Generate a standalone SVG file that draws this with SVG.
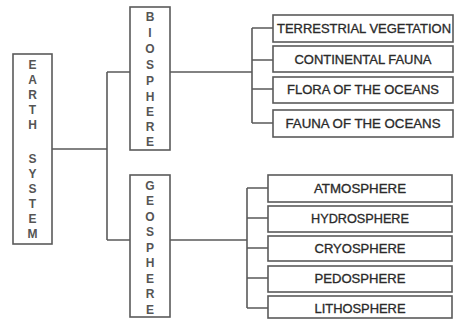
<svg xmlns="http://www.w3.org/2000/svg" width="454" height="320" viewBox="0 0 454 320">
<style>
.box{fill:#fff;stroke:#5a5a5a;stroke-width:1.6}
.ln{fill:none;stroke:#5a5a5a;stroke-width:1.6}
.v{font-family:"Liberation Sans",Arial,sans-serif;font-size:12px;font-weight:bold;fill:#555;text-anchor:middle}
.t{font-family:"Liberation Sans",Arial,sans-serif;font-size:12px;fill:#2a2a2a;text-anchor:middle;stroke:#2a2a2a;stroke-width:0.3}
</style>
<rect width="454" height="320" fill="#fff"/>
<g id="connectors">
<path class="ln" d="M52,149 H107 M107,72 V240 M107,72 H130 M107,240 H130"/>
<path class="ln" d="M170,72 H252 M252,28 V123 M252,28 H273 M252,60 H273 M252,89 H273 M252,123 H273"/>
<path class="ln" d="M170,240 H247 M247,188 V308 M247,188 H268 M247,218 H268 M247,248 H268 M247,278 H268 M247,308 H268"/>
</g>
<g id="earth-system">
<rect class="box" x="13" y="54" width="39" height="190"/>
<text class="v" x="32.5" y="68.5">E</text>
<text class="v" x="32.5" y="83.5">A</text>
<text class="v" x="32.5" y="98.5">R</text>
<text class="v" x="32.5" y="113.5">T</text>
<text class="v" x="32.5" y="128.5">H</text>
<text class="v" x="32.5" y="162.5">S</text>
<text class="v" x="32.5" y="177.5">Y</text>
<text class="v" x="32.5" y="192.5">S</text>
<text class="v" x="32.5" y="207.5">T</text>
<text class="v" x="32.5" y="222.5">E</text>
<text class="v" x="32.5" y="237.5">M</text>
</g>
<g id="biosphere">
<rect class="box" x="130" y="7" width="40" height="143"/>
<text class="v" x="150" y="20.5">B</text>
<text class="v" x="150" y="36.5">I</text>
<text class="v" x="150" y="52.5">O</text>
<text class="v" x="150" y="68.5">S</text>
<text class="v" x="150" y="84.5">P</text>
<text class="v" x="150" y="100.5">H</text>
<text class="v" x="150" y="115.5">E</text>
<text class="v" x="150" y="130.5">R</text>
<text class="v" x="150" y="145.5">E</text>
</g>
<g id="geosphere">
<rect class="box" x="130" y="175" width="40" height="142"/>
<text class="v" x="150" y="189.5">G</text>
<text class="v" x="150" y="205">E</text>
<text class="v" x="150" y="220.5">O</text>
<text class="v" x="150" y="236">S</text>
<text class="v" x="150" y="251.5">P</text>
<text class="v" x="150" y="267">H</text>
<text class="v" x="150" y="282.5">E</text>
<text class="v" x="150" y="298">R</text>
<text class="v" x="150" y="313.5">E</text>
</g>
<g id="terrestrial-vegetation">
<rect class="box" x="273" y="15" width="180" height="27"/>
<text class="t" x="364" y="33" textLength="174" lengthAdjust="spacingAndGlyphs">TERRESTRIAL VEGETATION</text>
</g>
<g id="continental-fauna">
<rect class="box" x="273" y="46" width="180" height="26"/>
<text class="t" x="363" y="64" textLength="137" lengthAdjust="spacingAndGlyphs">CONTINENTAL FAUNA</text>
</g>
<g id="flora-oceans">
<rect class="box" x="273" y="77" width="180" height="26"/>
<text class="t" x="363" y="94" textLength="152" lengthAdjust="spacingAndGlyphs">FLORA OF THE OCEANS</text>
</g>
<g id="fauna-oceans">
<rect class="box" x="273" y="110" width="180" height="27"/>
<text class="t" x="363" y="128" textLength="155" lengthAdjust="spacingAndGlyphs">FAUNA OF THE OCEANS</text>
</g>
<g id="atmosphere">
<rect class="box" x="268" y="175" width="184" height="27"/>
<text class="t" x="360" y="193" textLength="92" lengthAdjust="spacingAndGlyphs">ATMOSPHERE</text>
</g>
<g id="hydrosphere">
<rect class="box" x="268" y="206" width="184" height="26"/>
<text class="t" x="360" y="223" textLength="98" lengthAdjust="spacingAndGlyphs">HYDROSPHERE</text>
</g>
<g id="cryosphere">
<rect class="box" x="268" y="236" width="184" height="25"/>
<text class="t" x="360" y="253" textLength="91" lengthAdjust="spacingAndGlyphs">CRYOSPHERE</text>
</g>
<g id="pedosphere">
<rect class="box" x="268" y="266" width="184" height="26"/>
<text class="t" x="360" y="283" textLength="91" lengthAdjust="spacingAndGlyphs">PEDOSPHERE</text>
</g>
<g id="lithosphere">
<rect class="box" x="268" y="296" width="184" height="22"/>
<text class="t" x="360" y="313" textLength="91" lengthAdjust="spacingAndGlyphs">LITHOSPHERE</text>
</g>
</svg>
